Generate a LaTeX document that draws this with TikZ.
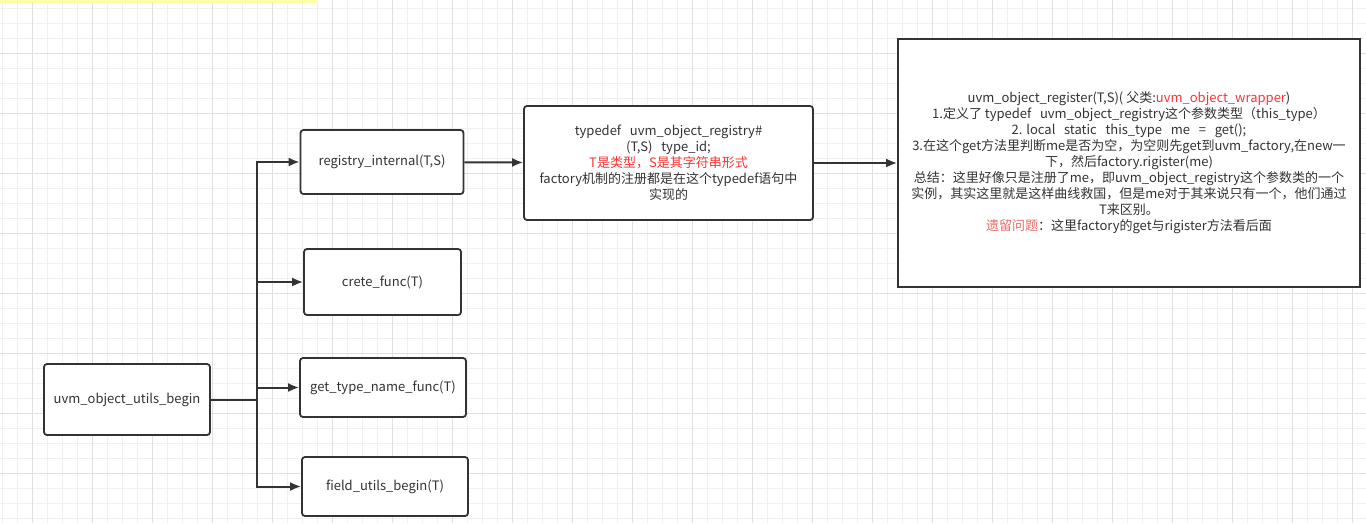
\documentclass[tikz,border=0pt]{standalone}
\usepackage{fontspec}
\setmainfont{Noto Sans CJK SC}
\usepackage{xcolor}
\usetikzlibrary{arrows.meta}
\definecolor{boxLine}{HTML}{333333}
\definecolor{txtGrey}{HTML}{333333}
\definecolor{noteRed}{HTML}{FF3333}
\definecolor{leftRed}{HTML}{EA6B66}
\definecolor{gridMinor}{HTML}{F0F0F0}
\definecolor{gridMajor}{HTML}{E0E0E0}
\definecolor{tabYellow}{HTML}{FFFFAA}
\tikzset{
  funcbox/.style={rectangle, rounded corners=3pt, draw=boxLine, fill=white, line width=1.8pt, align=center, text=txtGrey, font=\fontsize{13}{16}\selectfont, inner sep=2pt},
  notebox/.style={rectangle, draw=boxLine, fill=white, line width=1.8pt, align=center, text=txtGrey, font=\fontsize{13}{16}\selectfont, inner sep=2pt},
  flowarrow/.style={-{Latex[length=11pt,width=9pt]}, line width=2pt, draw=boxLine},
}

\begin{document}
\begin{tikzpicture}[x=1pt,y=-1pt]
  \useasboundingbox (0,0) rectangle (1366,523);
  % background grid
  \foreach \gx in {2,17,...,1367} { \draw[gridMinor, line width=1pt] (\gx,0) -- (\gx,523); }
  \foreach \gy in {8,23,...,523} { \draw[gridMinor, line width=1pt] (0,\gy) -- (1366,\gy); }
  \foreach \gx in {32,92,...,1367} { \draw[gridMajor, line width=1pt] (\gx,0) -- (\gx,523); }
  \foreach \gy in {53,113,...,523} { \draw[gridMajor, line width=1pt] (0,\gy) -- (1366,\gy); }
  \fill[tabYellow] (0,0) rectangle (318,3);

  \node[funcbox, minimum width=166pt, minimum height=71pt] (utils) at (127,399.5) {uvm\_object\_utils\_begin};
  \node[funcbox, minimum width=163pt, minimum height=64pt] (regint) at (382,162) {registry\_internal(T,S)};
  \node[funcbox, minimum width=157pt, minimum height=66pt] (crete) at (382.5,282) {crete\_func(T)};
  \node[funcbox, minimum width=166pt, minimum height=59pt] (gettype) at (383,387.5) {get\_type\_name\_func(T)};
  \node[funcbox, minimum width=166pt, minimum height=59pt] (field) at (385,486.5) {field\_utils\_begin(T)};
  \node[funcbox, minimum width=289pt, minimum height=114pt] (typedef) at (668.5,163) {typedef\ \ \ uvm\_object\_registry\#\\(T,S)\ \ \ type\_id;\\\textcolor{noteRed}{T是类型，S是其字符串形式}\\factory机制的注册都是在这个typedef语句中\\实现的};
  \node[notebox, minimum width=462pt, minimum height=248pt] (register) at (1129,163) {uvm\_object\_register(T,S)( 父类:\textcolor{noteRed}{uvm\_object\_wrapper})\\1.定义了 typedef\ \ \ uvm\_object\_registry这个参数类型（this\_type）\\2. local\ \ \ static\ \ \ this\_type\ \ \ me\ \ \ =\ \ \ get();\\3.在这个get方法里判断me是否为空，为空则先get到uvm\_factory,在new一\\下，然后factory.rigister(me)\\总结：这里好像只是注册了me，即uvm\_object\_registry这个参数类的一个\\实例，其实这里就是这样曲线救国，但是me对于其来说只有一个，他们通过\\T来区别。\\\textcolor{leftRed}{遗留问题}：这里factory的get与rigister方法看后面};

  \foreach \b in {regint, crete, gettype, field} { \draw[flowarrow] (utils.east) -- ++(46,0) |- (\b.west); }
  \draw[flowarrow] (regint) -- (typedef);
  \draw[flowarrow] (typedef) -- (register);
\end{tikzpicture}
\end{document}
